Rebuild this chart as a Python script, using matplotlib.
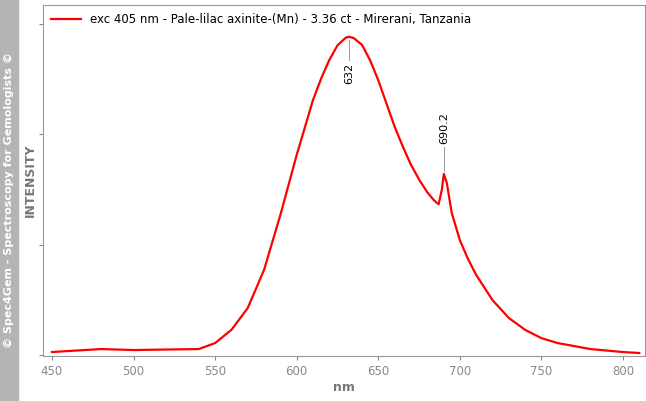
import numpy as np
import matplotlib
matplotlib.use("Agg")
import matplotlib.pyplot as plt

wavelength = [450, 480, 500, 540, 550, 560, 570, 580, 590, 600, 610, 615, 620, 625, 630, 632, 635, 640, 645, 650, 655, 660, 665, 670, 675, 680, 684, 687, 689, 690.2, 692, 695, 700, 705, 710, 720, 730, 740, 750, 760, 780, 800, 810]
intensity = [0.009, 0.018, 0.015, 0.018, 0.036, 0.076, 0.142, 0.257, 0.423, 0.604, 0.770, 0.835, 0.891, 0.935, 0.958, 0.961, 0.957, 0.937, 0.890, 0.830, 0.760, 0.690, 0.630, 0.575, 0.530, 0.492, 0.468, 0.455, 0.500, 0.547, 0.520, 0.430, 0.347, 0.290, 0.242, 0.166, 0.112, 0.076, 0.051, 0.036, 0.018, 0.009, 0.006]
peaks = [632, 690.2]
peak_labels = ["632", "690.2"]
legend_label = "exc 405 nm - Pale-lilac axinite-(Mn) - 3.36 ct - Mirerani, Tanzania"

fig = plt.figure(figsize=(6.46, 4.01), dpi=100)
fig.patches.append(plt.Rectangle((0, 0), 18/646, 1, transform=fig.transFigure, color="#b4b4b4", zorder=0))
fig.text(9/646, 0.5, "© Spec4Gem - Spectroscopy for Gemologists ©", rotation=90, color="white",
         fontsize=8, fontweight="bold", ha="center", va="center")
ax = fig.add_axes([43/646, 1-356/401, 602/646, 351/401])
ax.plot(wavelength, intensity, color="red", lw=1.6, label=legend_label)
ax.set_xlim(444.5, 813.5)
ax.set_ylim(-0.003, 1.057)
ax.set_xticks(range(450, 801, 50))
ax.set_yticks([0, 1/3, 2/3, 1])
ax.set_yticklabels([])
ax.tick_params(colors="#888888", labelsize=8.5, length=3)
for s in ax.spines.values():
    s.set_color("#999999")
ax.set_xlabel("nm", color="#777777", fontweight="bold", fontsize=9, labelpad=2)
fig.text(30/646, 1-180/401, "INTENSITY", rotation=90, color="#777777", fontweight="bold", fontsize=9, ha="center", va="center")
ax.legend(loc="upper left", frameon=False, fontsize=8.5, handlelength=2.5, borderaxespad=0.3)

for p, lab in zip(peaks, peak_labels):
    yp = np.interp(p, wavelength, intensity)
    if p < 650:
        ax.plot([p, p], [yp - 0.01, yp - 0.07], color="#999999", lw=0.7)
        ax.text(p, yp - 0.08, lab, rotation=90, ha="center", va="top", fontsize=8)
    else:
        ax.plot([p, p], [yp + 0.01, yp + 0.08], color="#999999", lw=0.7)
        ax.text(p, yp + 0.09, lab, rotation=90, ha="center", va="bottom", fontsize=8)

fig.savefig("out.png", dpi=100)
